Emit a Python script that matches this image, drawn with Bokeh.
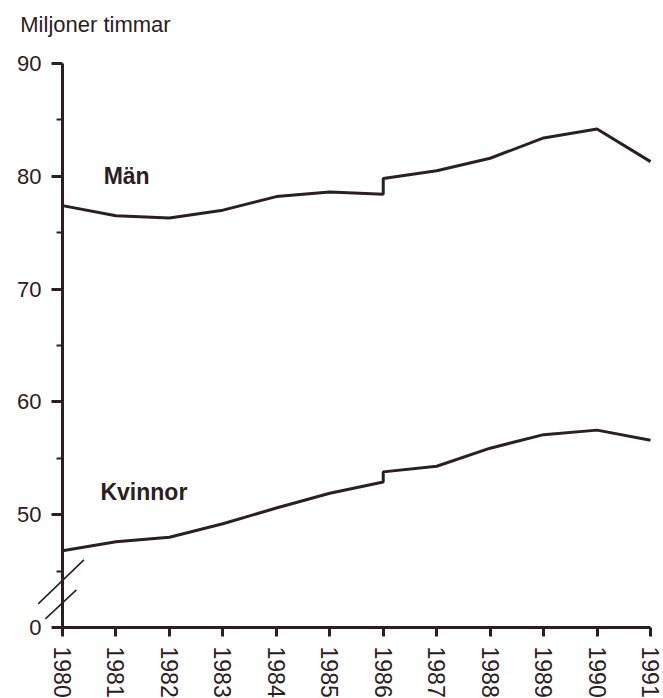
from bokeh.plotting import figure
from bokeh.models import FixedTicker, Label, Range1d
from bokeh.embed import file_html
from bokeh.resources import INLINE

# Data (1986 appears twice: series break / level shift in that year)
years = [1980, 1981, 1982, 1983, 1984, 1985, 1986, 1986, 1987, 1988, 1989, 1990, 1991]
man = [77.4, 76.5, 76.3, 77.0, 78.2, 78.6, 78.4, 79.8, 80.5, 81.6, 83.4, 84.2, 81.3]
kvinnor = [46.8, 47.6, 48.0, 49.2, 50.6, 51.9, 52.9, 53.8, 54.3, 55.9, 57.1, 57.5, 56.6]

year_ticks = list(range(1980, 1992))
# Broken axis: the tick at position 40 carries the label "0"
y_ticks = [40, 50, 60, 70, 80, 90]
y_minor = [45, 55, 65, 75, 85]
y_labels = {40: "0"}

# Axis-break slash marks (x0, y0, x1, y1)
brk_x0 = [1979.545, 1979.68]
brk_y0 = [42.10, 40.77]
brk_x1 = [1980.40, 1980.26]
brk_y1 = [46.0, 43.34]

INK = "#2a2023"
FONT = "Liberation Sans"

p = figure(frame_width=663, frame_height=698, min_border_left=0, min_border_top=0,
           min_border_right=0, min_border_bottom=0,
           x_range=Range1d(1978.84, 1991.243), y_range=Range1d(33.71, 95.585),
           output_backend="svg", toolbar_location=None,
           background_fill_color="white", border_fill_color="white")
p.outline_line_color = None
p.xgrid.visible = False
p.ygrid.visible = False

p.line(years, man, line_color=INK, line_width=3)
p.line(years, kvinnor, line_color=INK, line_width=3)
p.segment(brk_x0, brk_y0, brk_x1, brk_y1, line_color=INK, line_width=1.6)

for ax in (p.xaxis[0], p.yaxis[0]):
    ax.axis_line_color = INK
    ax.axis_line_width = 3
    ax.major_tick_line_color = INK
    ax.major_tick_line_width = 3
    ax.major_tick_in = 0
    ax.major_label_text_color = INK
    ax.major_label_text_font = FONT

xa = p.xaxis[0]
xa.fixed_location = 40
xa.ticker = FixedTicker(ticks=year_ticks)
xa.bounds = (1980, 1991)
xa.major_label_overrides = {y: str(y) for y in year_ticks}
xa.major_tick_out = 9
xa.minor_tick_line_color = None
xa.major_label_orientation = "vertical"
xa.major_label_text_font_size = "23px"
xa.major_label_standoff = 10

ya = p.yaxis[0]
ya.fixed_location = 1980
ya.bounds = (40, 90)
ya.ticker = FixedTicker(ticks=y_ticks, minor_ticks=y_minor)
ya.major_label_overrides = y_labels
ya.major_tick_out = 11
ya.minor_tick_out = 6
ya.minor_tick_in = 0
ya.minor_tick_line_color = INK
ya.minor_tick_line_width = 2
ya.major_label_text_font_size = "22px"
ya.major_label_standoff = 10

p.add_layout(Label(x=1979.21, y=92.39, text="Miljoner timmar", text_font=FONT,
                   text_font_size="22px", text_color=INK))
p.add_layout(Label(x=1980.77, y=78.85, text="Män", text_font=FONT, text_font_style="bold",
                   text_font_size="23px", text_color=INK))
p.add_layout(Label(x=1980.71, y=50.89, text="Kvinnor", text_font=FONT, text_font_style="bold",
                   text_font_size="23px", text_color=INK))

open("out.html", "w").write(file_html(p, INLINE))
